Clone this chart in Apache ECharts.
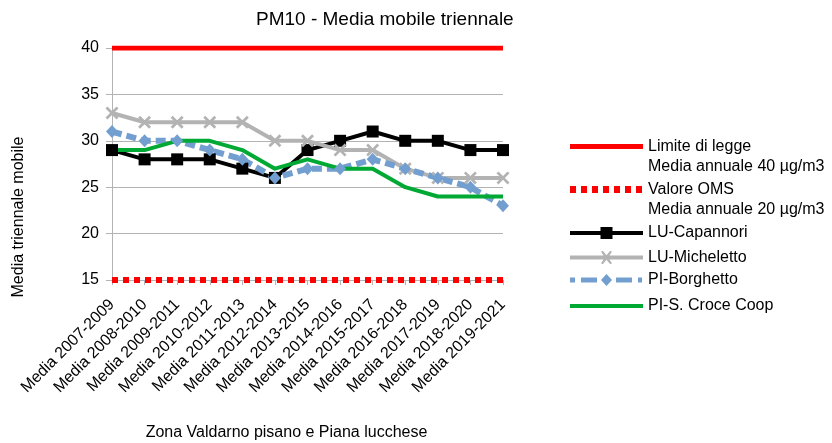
<!DOCTYPE html>
<html>
<head>
<meta charset="utf-8">
<script src="https://cdn.jsdelivr.net/npm/echarts@6/dist/echarts.min.js"></script>
<style>html,body{margin:0;padding:0;background:#fff}#c{width:832px;height:443px}</style>
</head>
<body>
<div id="c"></div>
<script>
const categories = ["Media 2007-2009","Media 2008-2010","Media 2009-2011","Media 2010-2012","Media 2011-2013","Media 2012-2014","Media 2013-2015","Media 2014-2016","Media 2015-2017","Media 2016-2018","Media 2017-2019","Media 2018-2020","Media 2019-2021"];
const limite = [40,40,40,40,40,40,40,40,40,40,40,40,40];
const oms = [15,15,15,15,15,15,15,15,15,15,15,15,15];
const capannori = [29,28,28,28,27,26,29,30,31,30,30,29,29];
const micheletto = [33,32,32,32,32,30,30,29,29,27,26,26,26];
const borghetto = [31,30,30,29,28,26,27,27,28,27,26,25,23];
const sCroce = [29,29,30,30,29,27,28,27,27,25,24,24,24];
const yTicks = {min:15, max:40, interval:5};

const FONT = 'Liberation Sans, Arial, sans-serif';
const crossPath = 'path://M0,1.5 L1.5,0 L5,3.5 L8.5,0 L10,1.5 L6.5,5 L10,8.5 L8.5,10 L5,6.5 L1.5,10 L0,8.5 L3.5,5 Z';

// legend icons (73 wide boxes, invisible corner dots fix the bounding box)
const bb1 = ' M0,0 L0.01,0 L0.01,0.01 Z M73,22 L72.99,22 L72.99,21.99 Z';
const bb2 = ' M0,0 L0.01,0 L0.01,0.01 Z M73,40 L72.99,40 L72.99,39.99 Z';
const icLimite = 'path://M0,7.5 L73,7.5 L73,12.5 L0,12.5 Z' + bb2;
let omsP = '';
for (const x0 of [0, 11, 22, 33, 44, 55, 66]) omsP += `M${x0},6.5 L${x0 + 6},6.5 L${x0 + 6},13.5 L${x0},13.5 Z `;
const icOms = 'path://' + omsP + bb2;
const icCap = 'path://M0,9 L73,9 L73,13 L0,13 Z M30.5,5 L42.5,5 L42.5,17 L30.5,17 Z' + bb1;
const icMic = 'path://M0,9 L73,9 L73,13 L0,13 Z M31.5,4.5 L33,4.5 L36.5,8.8 L40,4.5 L41.5,4.5 L41.5,6 L38,11 L41.5,16 L41.5,17.5 L40,17.5 L36.5,13.2 L33,17.5 L31.5,17.5 L31.5,16 L35,11 L31.5,6 Z' + bb1;
const icBor = 'path://M0,8.5 L5,8.5 L5,13.5 L0,13.5 Z M11,8.5 L27,8.5 L27,13.5 L11,13.5 Z M46,8.5 L62,8.5 L62,13.5 L46,13.5 Z M68,8.5 L72,8.5 L72,13.5 L68,13.5 Z M36.5,5 L42,11 L36.5,17 L31,11 Z' + bb1;
const icCro = 'path://M0,9 L73,9 L73,13 L0,13 Z' + bb1;

function legendFor(name, icon, top, extra) {
  return {
    data: [{name: name, icon: icon}], left: 570, top: top, padding: 0, orient: 'vertical',
    itemWidth: 73, itemHeight: extra ? 40 : 22,
    itemStyle: {borderWidth: 0},
    formatter: extra ? (n => n + '\n' + extra) : undefined,
    textStyle: {fontFamily: FONT, fontSize: 16, color: '#000', lineHeight: extra ? 20 : 22, padding: [4, 0, 0, 0]}
  };
}

const chart = echarts.init(document.getElementById('c'), null, {renderer: 'canvas'});
chart.setOption({
  animation: false,
  backgroundColor: '#fff',
  title: {text: 'PM10 - Media mobile triennale', left: 256, top: 10, padding: 0, textStyle: {fontFamily: FONT, fontSize: 19, fontWeight: 'normal', color: '#000'}},
  grid: {left: 112, right: 329, top: 48, bottom: 163, containLabel: false, outerBoundsMode: 'none'},
  legend: [
    legendFor('Limite di legge', icLimite, 134.5, 'Media annuale 40 µg/m3'),
    legendFor('Valore OMS', icOms, 177.5, 'Media annuale 20 µg/m3'),
    legendFor('LU-Capannori', icCap, 220),
    legendFor('LU-Micheletto', icMic, 244.5),
    legendFor('PI-Borghetto', icBor, 267),
    legendFor('PI-S. Croce Coop', icCro, 293)
  ],
  xAxis: {
    type: 'category', data: categories, boundaryGap: false,
    name: 'Zona Valdarno pisano e Piana lucchese', nameLocation: 'middle', nameGap: 145,
    nameTextStyle: {fontFamily: FONT, fontSize: 16, color: '#000', padding: [0, 42, 0, 0]},
    axisLine: {lineStyle: {color: '#b3b3b3', width: 1}},
    axisTick: {show: true, length: 5, lineStyle: {color: '#b3b3b3'}},
    axisLabel: {rotate: 45, interval: 0, fontFamily: FONT, fontSize: 16, color: '#000', margin: 22},
    splitLine: {show: false}
  },
  yAxis: {
    type: 'value', min: yTicks.min, max: yTicks.max, interval: yTicks.interval,
    name: 'Media triennale mobile', nameLocation: 'middle', nameGap: 85, nameRotate: 90,
    nameTextStyle: {fontFamily: FONT, fontSize: 16, color: '#000', padding: [0, 106, 0, 0]},
    axisLine: {show: true, lineStyle: {color: '#b3b3b3', width: 1}},
    axisTick: {show: true, length: 6, lineStyle: {color: '#b3b3b3'}},
    axisLabel: {fontFamily: FONT, fontSize: 16, color: '#000', margin: 13},
    splitLine: {show: true, lineStyle: {color: '#b3b3b3', width: 1}}
  },
  series: [
    {name: 'Limite di legge', type: 'line', data: limite, symbol: 'none', lineStyle: {color: '#ff0000', width: 5}, itemStyle: {color: '#ff0000'}},
    {name: 'Valore OMS', type: 'line', data: oms, symbol: 'none', lineStyle: {color: '#ff0000', width: 6, type: [6, 5], cap: 'butt'}, itemStyle: {color: '#ff0000'}},
    {name: 'LU-Capannori', type: 'line', data: capannori, symbol: 'rect', symbolSize: 12, lineStyle: {color: '#000000', width: 4, join: 'round'}, itemStyle: {color: '#000000'}},
    {name: 'LU-Micheletto', type: 'line', data: micheletto, symbol: crossPath, symbolSize: 13, lineStyle: {color: '#b3b3b3', width: 4, join: 'round'}, itemStyle: {color: '#b3b3b3'}},
    {name: 'PI-Borghetto', type: 'line', data: borghetto, symbol: 'diamond', symbolSize: [12, 13], lineStyle: {color: '#729fcf', width: 6, type: [10, 5], join: 'round'}, itemStyle: {color: '#729fcf'}},
    {name: 'PI-S. Croce Coop', type: 'line', data: sCroce, symbol: 'none', lineStyle: {color: '#00a933', width: 4, join: 'round'}, itemStyle: {color: '#00a933'}}
  ]
});
</script>
</body>
</html>
